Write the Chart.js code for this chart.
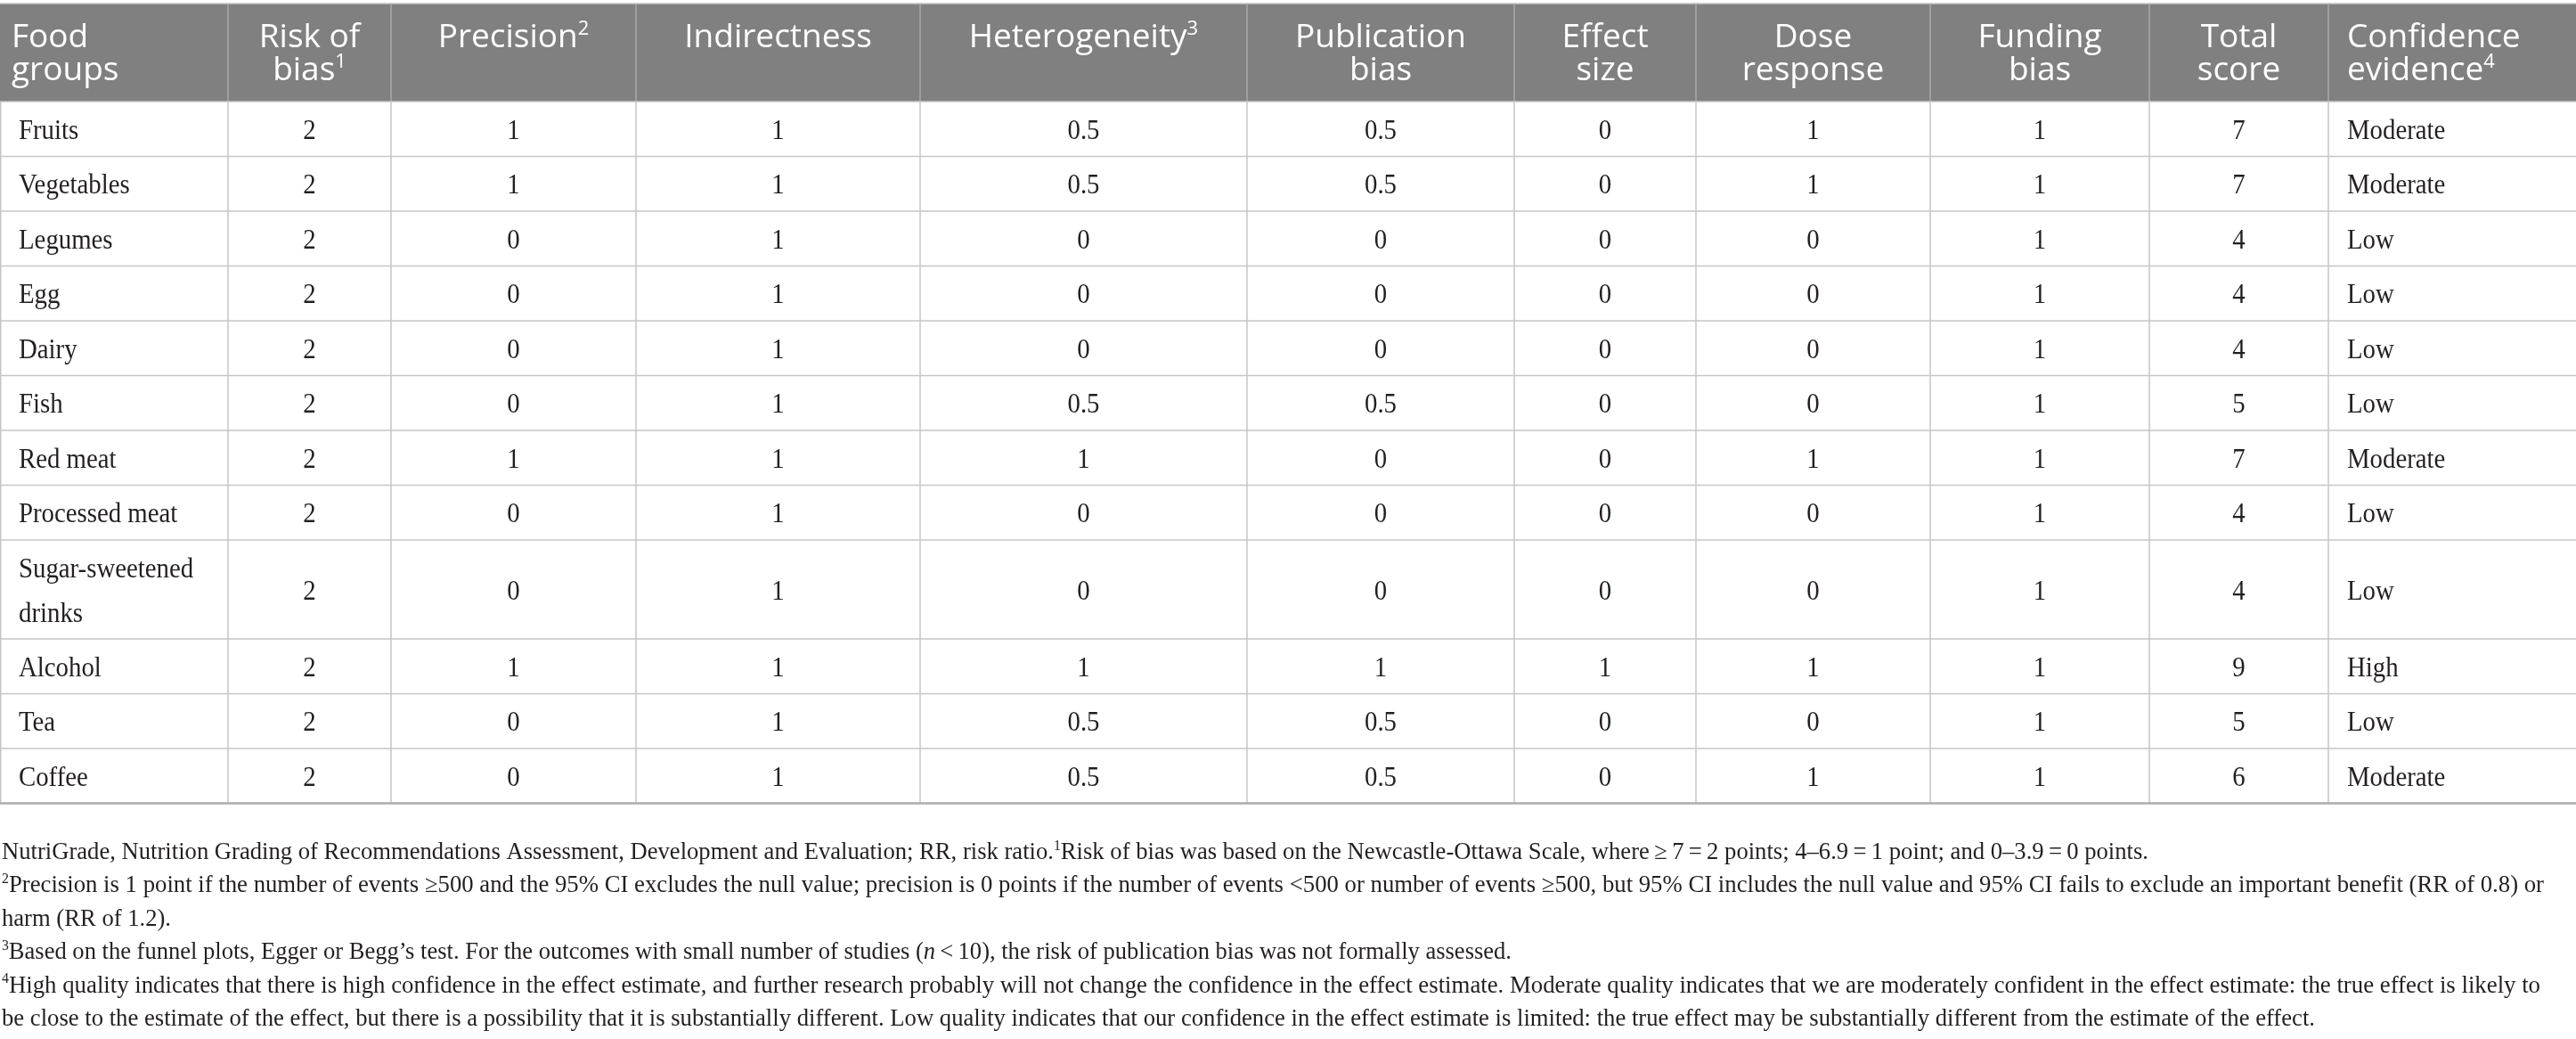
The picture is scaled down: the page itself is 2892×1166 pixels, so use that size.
<!DOCTYPE html>
<html>
<head>
<meta charset="utf-8">
<script src="https://cdn.jsdelivr.net/npm/chart.js@4.4.1/dist/chart.umd.min.js"></script>
<style>
  html,body{margin:0;padding:0;background:#fff;overflow:hidden}
  canvas{display:block}
</style>
</head>
<body>
<canvas id="nutriGrade" width="2892" height="1166"></canvas>
<script>
// ---- table data ----
const foodGroups = ["Fruits","Vegetables","Legumes","Egg","Dairy","Fish","Red meat","Processed meat","Sugar-sweetened drinks","Alcohol","Tea","Coffee"];
const riskOfBias      = [2, 2, 2, 2, 2, 2, 2, 2, 2, 2, 2, 2];
const precision       = [1, 1, 0, 0, 0, 0, 1, 0, 0, 1, 0, 0];
const indirectness    = [1, 1, 1, 1, 1, 1, 1, 1, 1, 1, 1, 1];
const heterogeneity   = [0.5, 0.5, 0, 0, 0, 0.5, 1, 0, 0, 1, 0.5, 0.5];
const publicationBias = [0.5, 0.5, 0, 0, 0, 0.5, 0, 0, 0, 1, 0.5, 0.5];
const effectSize      = [0, 0, 0, 0, 0, 0, 0, 0, 0, 1, 0, 0];
const doseResponse    = [1, 1, 0, 0, 0, 0, 1, 0, 0, 1, 0, 1];
const fundingBias     = [1, 1, 1, 1, 1, 1, 1, 1, 1, 1, 1, 1];
const totalScore      = [7, 7, 4, 4, 4, 5, 7, 4, 4, 9, 5, 6];
const confidence      = ["Moderate","Moderate","Low","Low","Low","Low","Moderate","Low","Low","High","Low","Moderate"];

const columnHeaders = [
  {lines:["Food","groups"]},
  {lines:["Risk of","bias"], sup:"1"},
  {lines:["Precision"], sup:"2"},
  {lines:["Indirectness"]},
  {lines:["Heterogeneity"], sup:"3"},
  {lines:["Publication","bias"]},
  {lines:["Effect","size"]},
  {lines:["Dose","response"]},
  {lines:["Funding","bias"]},
  {lines:["Total","score"]},
  {lines:["Confidence","evidence"], sup:"4"},
];

// footnote lines as [text, style] pieces; style: "" | "sup" | "i"
const footnotes = [
  [["NutriGrade, Nutrition Grading of Recommendations Assessment, Development and Evaluation; RR, risk ratio.",""],["1","sup"],["Risk of bias was based on the Newcastle-Ottawa Scale, where\u2009\u2265\u20097\u2009=\u20092 points; 4\u20136.9\u2009=\u20091 point; and 0\u20133.9\u2009=\u20090 points.",""]],
  [["2","sup"],["Precision is 1 point if the number of events \u2265500 and the 95% CI excludes the null value; precision is 0 points if the number of events <500 or number of events \u2265500, but 95% CI includes the null value and 95% CI fails to exclude an important benefit (RR of 0.8) or",""]],
  [["harm (RR of 1.2).",""]],
  [["3","sup"],["Based on the funnel plots, Egger or Begg\u2019s test. For the outcomes with small number of studies (",""],["n","i"],["\u2009<\u200910), the risk of publication bias was not formally assessed.",""]],
  [["4","sup"],["High quality indicates that there is high confidence in the effect estimate, and further research probably will not change the confidence in the effect estimate. Moderate quality indicates that we are moderately confident in the effect estimate: the true effect is likely to",""]],
  [["be close to the estimate of the effect, but there is a possibility that it is substantially different. Low quality indicates that our confidence in the effect estimate is limited: the true effect may be substantially different from the estimate of the effect.",""]],
];

// ---- layout ----
const W = 2892, H = 1166;
const colEdges = [0, 256, 439, 714, 1033, 1400, 1700, 1904, 2167, 2413, 2614, 2892];
const headTop = 4, headBottom = 114;
const rowH = 61.5, rowHWrapped = 111;
const cellPad = 21;
const footWidths = [2410, 2854, 190, 1695, 2850, 2597];
const footBase0 = 964, footLine = 37.4;

const SERIF = "'Liberation Serif', 'Times New Roman', serif";
const SANS = "'Open Sans', 'Noto Sans', sans-serif";
const bodySize = 32, bodySqueeze = 0.9, headSize = 37, footSize = 27;

const columns = [foodGroups, riskOfBias, precision, indirectness, heterogeneity, publicationBias,
                 effectSize, doseResponse, fundingBias, totalScore, confidence];
const leftCols = [0, 10];

// which food-group labels need two lines
const measureCtx = document.createElement("canvas").getContext("2d");
measureCtx.font = `${bodySize}px ${SERIF}`;
function wrapLabel(txt, maxW){
  if (measureCtx.measureText(txt).width * bodySqueeze <= maxW) return [txt];
  const k = txt.lastIndexOf(" ");
  return [txt.slice(0,k), txt.slice(k+1)];
}
const labelLines = foodGroups.map(f => wrapLabel(f, colEdges[1] - colEdges[0] - 2*cellPad));

const rowEdges = [headBottom];
labelLines.forEach(l => rowEdges.push(rowEdges[rowEdges.length-1] + (l.length > 1 ? rowHWrapped : rowH)));

function anchorX(c){
  return leftCols.includes(c) ? colEdges[c] + cellPad : (colEdges[c] + colEdges[c+1]) / 2;
}

// mixed runs of text (plain / superscript / italic), optionally squeezed to a width
function pieceFont(style, size, family){
  if (style === "sup") return `${Math.round(size*0.6)}px ${family}`;
  if (style === "i") return `italic ${size}px ${family}`;
  return `${size}px ${family}`;
}
function runWidth(ctx, pieces, size, family){
  let w = 0;
  pieces.forEach(([t, s]) => { ctx.font = pieceFont(s, size, family); w += ctx.measureText(t).width; });
  return w;
}
function drawRun(ctx, pieces, x, y, size, family, sx){
  ctx.save();
  ctx.translate(x, y);
  ctx.scale(sx || 1, 1);
  let cx = 0;
  pieces.forEach(([t, s]) => {
    ctx.font = pieceFont(s, size, family);
    ctx.fillText(t, cx, s === "sup" ? -size*0.38 : 0);
    cx += ctx.measureText(t).width;
  });
  ctx.restore();
}

const tablePlugin = {
  id: "tablePlugin",
  beforeDatasetsDraw(chart){
    const {ctx, scales:{x, y}} = chart;
    const px = v => x.getPixelForValue(v), py = v => y.getPixelForValue(v);
    ctx.save();
    // header band
    ctx.fillStyle = "#808080";
    ctx.fillRect(px(0), py(headTop), px(W) - px(0), py(headBottom) - py(headTop));
    ctx.strokeStyle = "#c4c4c4"; ctx.lineWidth = 1.5;
    ctx.beginPath(); ctx.moveTo(px(0), py(headTop)); ctx.lineTo(px(W), py(headTop)); ctx.stroke();
    // header separators
    ctx.strokeStyle = "#a8a8a8"; ctx.lineWidth = 1.5;
    colEdges.slice(1, -1).forEach(e => {
      ctx.beginPath(); ctx.moveTo(px(e), py(headTop)); ctx.lineTo(px(e), py(headBottom)); ctx.stroke();
    });
    // body grid
    const bottom = rowEdges[rowEdges.length-1];
    ctx.strokeStyle = "#c6c6c6"; ctx.lineWidth = 1.5;
    colEdges.slice(0, -1).forEach(e => {
      const ex = Math.max(px(e), 0.75);
      ctx.beginPath(); ctx.moveTo(ex, py(headBottom)); ctx.lineTo(ex, py(bottom)); ctx.stroke();
    });
    rowEdges.slice(0, -1).forEach(r => {
      ctx.beginPath(); ctx.moveTo(px(0), py(r)); ctx.lineTo(px(W), py(r)); ctx.stroke();
    });
    ctx.strokeStyle = "#ababab"; ctx.lineWidth = 2.5;
    ctx.beginPath(); ctx.moveTo(px(0), py(bottom)); ctx.lineTo(px(W), py(bottom)); ctx.stroke();

    // header text
    ctx.fillStyle = "#ffffff"; ctx.textBaseline = "alphabetic";
    columnHeaders.forEach((h, c) => {
      h.lines.forEach((ln, k) => {
        const pieces = [[ln, ""]];
        if (h.sup && k === h.lines.length - 1) pieces.push([h.sup, "sup"]);
        const w = runWidth(ctx, pieces, headSize, SANS);
        const left = c === 0 ? colEdges[0] + 13 : c === 10 ? colEdges[c] + cellPad : (colEdges[c] + colEdges[c+1]) / 2 - w / 2;
        drawRun(ctx, pieces, px(left), py(headTop) + 49 + k * 37, headSize, SANS);
      });
    });
    ctx.restore();
  },
  afterDatasetsDraw(chart){
    const {ctx} = chart;
    ctx.save();
    ctx.fillStyle = "#231f20"; ctx.textBaseline = "alphabetic";
    ctx.font = `${bodySize}px ${SERIF}`;
    chart.data.datasets.forEach((ds, c) => {
      const meta = chart.getDatasetMeta(c);
      ctx.textAlign = leftCols.includes(c) ? "left" : "center";
      meta.data.forEach((el, i) => {
        const lines = c === 0 ? labelLines[i] : [String(ds.values[i])];
        lines.forEach((ln, k) => {
          ctx.save();
          ctx.translate(el.x, el.y + 11 + (k - (lines.length - 1) / 2) * 50);
          ctx.scale(bodySqueeze, 1);
          ctx.fillText(ln, 0, 0);
          ctx.restore();
        });
      });
    });
    ctx.restore();
  },
  afterDraw(chart){
    const {ctx, scales:{x, y}} = chart;
    ctx.save();
    ctx.fillStyle = "#231f20"; ctx.textAlign = "left"; ctx.textBaseline = "alphabetic";
    footnotes.forEach((pieces, k) => {
      const w = runWidth(ctx, pieces, footSize, SERIF);
      drawRun(ctx, pieces, x.getPixelForValue(2), y.getPixelForValue(footBase0 + k * footLine), footSize, SERIF, footWidths[k] / w);
    });
    ctx.restore();
  }
};

new Chart(document.getElementById("nutriGrade"), {
  type: "scatter",
  data: {
    datasets: columns.map((vals, c) => ({
      label: columnHeaders[c].lines.join(" "),
      values: vals,
      data: vals.map((v, i) => ({x: anchorX(c), y: (rowEdges[i] + rowEdges[i+1]) / 2})),
      pointRadius: 0,
      pointHoverRadius: 0,
    }))
  },
  options: {
    responsive: false,
    animation: false,
    events: [],
    layout: {padding: 0},
    plugins: {legend: {display: false}, tooltip: {enabled: false}},
    scales: {
      x: {type: "linear", min: 0, max: W, display: false},
      y: {type: "linear", min: 0, max: H, reverse: true, display: false},
    }
  },
  plugins: [tablePlugin]
});
</script>
</body>
</html>
